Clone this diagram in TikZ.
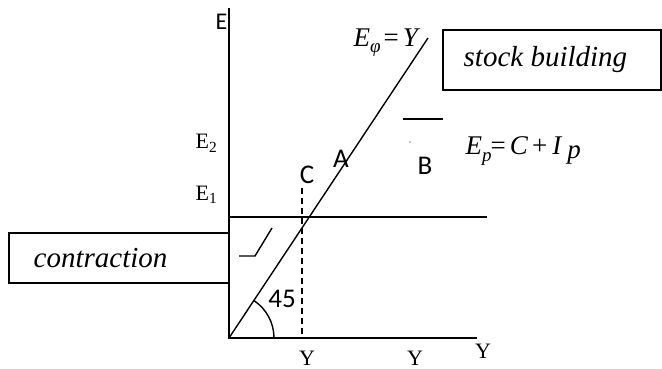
\documentclass[tikz,border=0pt]{standalone}
\usepackage{fontspec}
\setmainfont{Liberation Serif}
\newfontfamily\sansf{Carlito}
\begin{document}
\begin{tikzpicture}[x=1pt,y=-1pt, line width=1.4pt,
  lab/.style={inner sep=0pt, anchor=base, font=\sansf\fontsize{27}{30}\selectfont},
  ser/.style={inner sep=0pt, anchor=base, font=\fontsize{22}{26}\selectfont},
  boxed/.style={draw, line width=1.2pt, inner sep=0pt},
  boxtext/.style={inner sep=0pt, anchor=base west, font=\fontsize{29}{32}\selectfont\itshape},
  eqn/.style={inner sep=0pt, anchor=base west, font=\fontsize{27}{30}\selectfont}]
\useasboundingbox (0,0) rectangle (662,369);
% axes
\coordinate (O) at (229,338);
\coordinate (Etop) at (229,8);
\coordinate (Xend) at (477,338);
\draw (Etop) -- (O) -- (Xend);
% 45 degree line
\coordinate (Ltop) at (428,38);
\draw (O) -- (Ltop);
% E1 horizontal line
\coordinate (H1) at (229,217);
\coordinate (H2) at (487,217);
\draw (H1) -- (H2);
% dashed vertical
\coordinate (D1) at (302,188);
\coordinate (D2) at (302,338);
\draw[dash pattern=on 6pt off 4pt] (D1) -- (D2);
% angle arc
\coordinate (A0) at (274,338);
\draw (A0) arc[start angle=0, end angle=-56.2, radius=45];
% small marks
\coordinate (S1) at (239,256);
\coordinate (S2) at (255,256);
\coordinate (S3) at (272,228);
\draw (S1) -- (S2) -- (S3);
\coordinate (B1) at (403,119);
\coordinate (B2) at (443,119);
\draw (B1) -- (B2);
\coordinate (Dot) at (410,142);
\fill (Dot) circle[radius=0.7];
% boxes
\node[boxed, minimum width=220pt, minimum height=50pt] (cbox) at (119,258) {};
\node[boxtext] (ctext) at (33,267) {contraction};
\node[boxed, minimum width=218pt, minimum height=60pt] (sbox) at (552,60) {};
\node[boxtext] (stext) at (463,67) {stock building};
% sans labels
\node[lab, font=\sansf\fontsize{24}{28}\selectfont] (Elab) at (221.5,30) {E};
\node[lab] (Clab) at (307,183) {C};
\node[lab] (Alab) at (341,167) {A};
\node[lab] (Blab) at (425,174) {B};
\node[lab] (ang) at (282,307) {45};
% serif labels
\node[ser, anchor=base east] (E2) at (218,149) {E\textsubscript{2}};
\node[ser, anchor=base east] (E1) at (218,200) {E\textsubscript{1}};
\node[ser] (Y1) at (307,365) {Y};
\node[ser] (Y2) at (415,365) {Y};
\node[ser] (Y3) at (483,358) {Y};
% equations
\node[eqn] (Ephi) at (353,47)
  {\textit{E}\raisebox{-6pt}{\fontsize{19}{19}\selectfont\textit{φ}}\kern3pt=\kern4pt\textit{Y}};
\node[eqn] (Ep) at (465,154)
  {\textit{E}\raisebox{-7pt}{\fontsize{19}{19}\selectfont\textit{p}}\kern-1pt=\kern4pt\textit{C}\kern4pt+\kern5pt\textit{I}\kern5pt\raisebox{-4pt}{\textit{p}}};
\end{tikzpicture}
\end{document}
